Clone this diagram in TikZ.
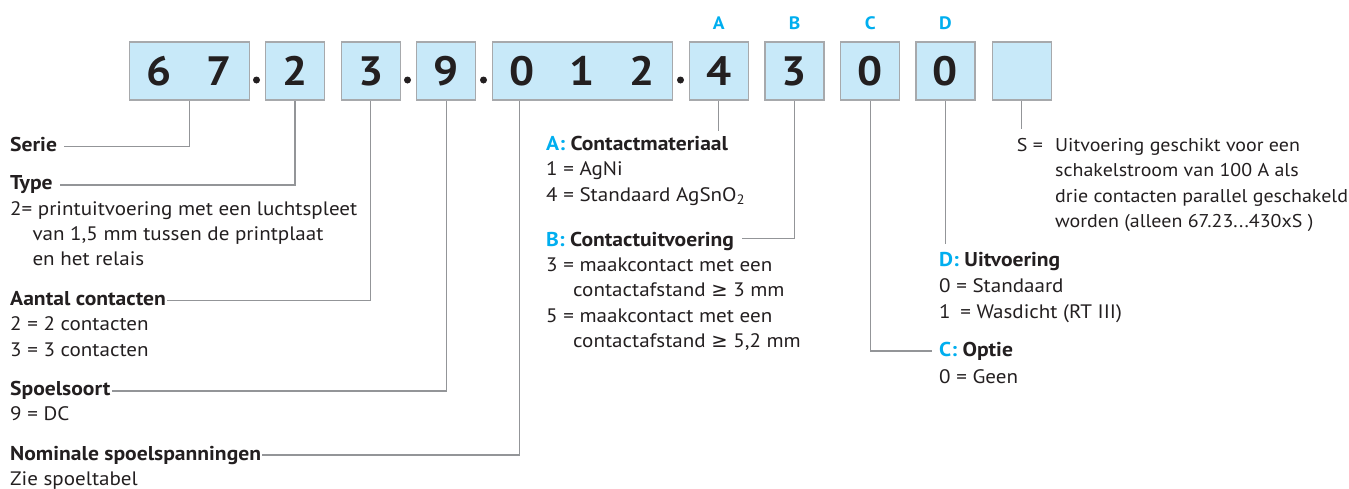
\documentclass[tikz,border=0pt]{standalone}
\usepackage{fontspec}
\setmainfont{PT Sans}[FakeStretch=1.08]
\newfontfamily\symf{DejaVu Sans}
\definecolor{txt}{HTML}{231F20}
\definecolor{cy}{HTML}{00AEEF}
\definecolor{boxfill}{HTML}{C8E9F9}
\definecolor{boxline}{HTML}{A7A9AC}
\definecolor{conn}{HTML}{939598}
\begin{document}
\begin{tikzpicture}[x=1pt,y=-1pt,
 digitbox/.style={draw=boxline, line width=1.3pt, fill=boxfill, minimum height=58pt, minimum width=59pt, inner sep=0pt, font=\fontsize{41}{41}\selectfont\bfseries, text=txt},
 dotmark/.style={circle, fill=txt, minimum size=7pt, inner sep=0pt},
 letter/.style={anchor=base, inner sep=0pt, font=\fontsize{18}{18}\selectfont\bfseries, text=cy},
 head/.style={anchor=base west, inner sep=0pt, font=\fontsize{20}{20}\selectfont\bfseries, text=txt},
 body/.style={anchor=base west, inner sep=0pt, font=\fontsize{19.5}{19.5}\selectfont, text=txt},
 sbody/.style={body, font=\fontsize{18.5}{18.5}\selectfont},
 link/.style={draw=conn, line width=1.2pt},
]
\useasboundingbox (0,0) rectangle (1349,488);

% boxes
\node[digitbox, minimum width=119.5pt] (b1) at (189.25,71) {\makebox[60pt]{6}\makebox[60pt]{7}};
\node[digitbox] (b2) at (295,71) {2};
\node[digitbox] (b3) at (370.85,71) {3};
\node[digitbox] (b4) at (446.2,71) {9};
\node[digitbox, minimum width=180pt] (b5) at (582.3,71) {\makebox[60pt]{0}\makebox[60pt]{1}\makebox[60pt]{2}};
\node[digitbox] (b6) at (718.8,71) {4};
\node[digitbox] (b7) at (794.5,71) {3};
\node[digitbox] (b8) at (870.2,71) {0};
\node[digitbox] (b9) at (945.5,71) {0};
\node[digitbox] (b10) at (1021.7,71) {};

% dots
\node[dotmark] (d1) at (256.5,80) {};
\node[dotmark] (d2) at (407.5,80) {};
\node[dotmark] (d3) at (483.5,80) {};
\node[dotmark] (d4) at (680.5,80) {};

% letters
\node[letter] (lA) at (718.8,29) {A};
\node[letter] (lB) at (794.5,29) {B};
\node[letter] (lC) at (870.2,29) {C};
\node[letter] (lD) at (945.5,29) {D};

% left column
\node[head] (serie) at (10,151.7) {Serie};
\node[head] (type) at (10,189) {Type};
\node[body] (t1) at (10,215.7) {2= printuitvoering met een luchtspleet};
\node[body] (t2) at (32.3,240.7) {van 1,5 mm tussen de printplaat};
\node[body] (t3) at (32.3,265.7) {en het relais};
\node[head] (aantal) at (10,305.7) {Aantal contacten};
\node[body] (a1) at (10,330.7) {2 = 2 contacten};
\node[body] (a2) at (10,356.7) {3 = 3 contacten};
\node[head] (spoel) at (10,395) {Spoelsoort};
\node[body] (s1) at (10,420) {9 = DC};
\node[head] (nom) at (10,460) {Nominale spoelspanningen};
\node[body] (n1) at (10,485) {Zie spoeltabel};

% middle column
\node[head] (headA) at (546,150.7) {{\color{cy}A:} Contactmateriaal};
\node[body] (m1) at (546,175) {1 = AgNi};
\node[body] (m2) at (546,201) {4 = Standaard AgSnO\textsubscript{2}};
\node[head] (headB) at (546,246) {{\color{cy}B:} Contactuitvoering};
\node[body] (m3) at (546,271.7) {3 = maakcontact met een};
\node[body] (m4) at (573,296.7) {contactafstand {\symf ≥} 3 mm};
\node[body] (m5) at (546,322.3) {5 = maakcontact met een};
\node[body] (m6) at (573,347.7) {contactafstand {\symf ≥} 5,2 mm};

% right column
\node[head] (headD) at (939,266.7) {{\color{cy}D:} Uitvoering};
\node[body] (r1) at (939,292.3) {0 = Standaard};
\node[body] (r2) at (939,318.3) {1\hspace{4pt} = Wasdicht (RT III)};
\node[head] (headC) at (939,356.7) {{\color{cy}C:} Optie};
\node[body] (r3) at (939,383.3) {0 = Geen};

\node[sbody] (sEq) at (1016.7,151.7) {S =};
\node[sbody] (sx1) at (1055,151.7) {Uitvoering geschikt voor een};
\node[sbody] (sx2) at (1055,176.7) {schakelstroom van 100 A als};
\node[sbody] (sx3) at (1055,202.3) {drie contacten parallel geschakeld};
\node[sbody] (sx4) at (1055,227.3) {worden (alleen 67.23...430xS )};

% connectors
\draw[link] (b1.south) |- ([xshift=7pt,yshift=5pt]serie.base east);
\draw[link] (b2.south) |- ([xshift=7pt,yshift=4pt]type.base east);
\draw[link] (b3.south) |- ([xshift=1pt,yshift=5pt]aantal.base east);
\draw[link] (b4.south) |- ([xshift=1pt,yshift=4pt]spoel.base east);
\draw[link] ([xshift=28pt]b5.south west) |- ([xshift=1pt,yshift=5pt]nom.base east);
\draw[link] (b6.south) -- ([yshift=5pt]b6.south |- headA.north);
\draw[link] (b7.south) |- ([xshift=8pt,yshift=7.7pt]headB.base east);
\draw[link] (b8.south) |- ([xshift=-7pt,yshift=5.7pt]headC.base west);
\draw[link] (b9.south) -- ([yshift=8pt]b9.south |- headD.north);
\draw[link] (b10.south) -- ([yshift=9pt]b10.south |- sEq.north);
\end{tikzpicture}
\end{document}
